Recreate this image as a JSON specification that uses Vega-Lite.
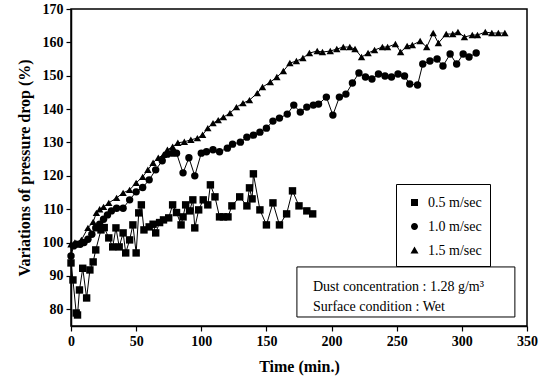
{
  "$schema": "https://vega.github.io/schema/vega-lite/v6.json",
  "width": 456,
  "height": 317,
  "autosize": {"type": "none"},
  "padding": {"left": 71, "top": 9, "right": 15, "bottom": 55},
  "background": "white",
  "config": {
    "view": {"stroke": "black", "strokeWidth": 1.5},
    "font": "Liberation Serif",
    "axis": {
      "grid": false,
      "domainColor": "black",
      "domainWidth": 1.5,
      "tickColor": "black",
      "tickWidth": 1.2,
      "labelColor": "black",
      "labelFont": "Liberation Serif",
      "labelFontSize": 14,
      "labelFontWeight": "bold",
      "titleColor": "black",
      "titleFont": "Liberation Serif",
      "titleFontSize": 16,
      "titleFontWeight": "bold"
    }
  },
  "datasets": {
    "pts": [
      {"t": 0, "v": 93.9, "s": "0.5 m/sec"},
      {"t": 1.5, "v": 88.8, "s": "0.5 m/sec"},
      {"t": 4, "v": 78.9, "s": "0.5 m/sec"},
      {"t": 5, "v": 78.3, "s": "0.5 m/sec"},
      {"t": 6.5, "v": 85.8, "s": "0.5 m/sec"},
      {"t": 9, "v": 92.3, "s": "0.5 m/sec"},
      {"t": 12, "v": 83.4, "s": "0.5 m/sec"},
      {"t": 14.5, "v": 91.8, "s": "0.5 m/sec"},
      {"t": 17, "v": 94.2, "s": "0.5 m/sec"},
      {"t": 19, "v": 97.8, "s": "0.5 m/sec"},
      {"t": 23, "v": 103.8, "s": "0.5 m/sec"},
      {"t": 25.5, "v": 104.5, "s": "0.5 m/sec"},
      {"t": 29, "v": 101.4, "s": "0.5 m/sec"},
      {"t": 32, "v": 98.7, "s": "0.5 m/sec"},
      {"t": 34.5, "v": 104.4, "s": "0.5 m/sec"},
      {"t": 37, "v": 98.7, "s": "0.5 m/sec"},
      {"t": 40, "v": 102.9, "s": "0.5 m/sec"},
      {"t": 42, "v": 96.9, "s": "0.5 m/sec"},
      {"t": 45, "v": 100.8, "s": "0.5 m/sec"},
      {"t": 47.5, "v": 105.3, "s": "0.5 m/sec"},
      {"t": 50, "v": 96.9, "s": "0.5 m/sec"},
      {"t": 52, "v": 108.9, "s": "0.5 m/sec"},
      {"t": 54, "v": 111.3, "s": "0.5 m/sec"},
      {"t": 56, "v": 103.8, "s": "0.5 m/sec"},
      {"t": 60, "v": 104.7, "s": "0.5 m/sec"},
      {"t": 63, "v": 105.5, "s": "0.5 m/sec"},
      {"t": 65, "v": 102.9, "s": "0.5 m/sec"},
      {"t": 68, "v": 106, "s": "0.5 m/sec"},
      {"t": 71, "v": 106.8, "s": "0.5 m/sec"},
      {"t": 75, "v": 107.4, "s": "0.5 m/sec"},
      {"t": 78, "v": 111.3, "s": "0.5 m/sec"},
      {"t": 81, "v": 109, "s": "0.5 m/sec"},
      {"t": 84.5, "v": 105.3, "s": "0.5 m/sec"},
      {"t": 86, "v": 107.7, "s": "0.5 m/sec"},
      {"t": 88, "v": 111.3, "s": "0.5 m/sec"},
      {"t": 91, "v": 109.5, "s": "0.5 m/sec"},
      {"t": 93.5, "v": 112.8, "s": "0.5 m/sec"},
      {"t": 95, "v": 104.4, "s": "0.5 m/sec"},
      {"t": 98, "v": 109.8, "s": "0.5 m/sec"},
      {"t": 101.5, "v": 112.8, "s": "0.5 m/sec"},
      {"t": 105, "v": 111.3, "s": "0.5 m/sec"},
      {"t": 107, "v": 117.3, "s": "0.5 m/sec"},
      {"t": 110.5, "v": 113.7, "s": "0.5 m/sec"},
      {"t": 114, "v": 107.7, "s": "0.5 m/sec"},
      {"t": 117, "v": 107.7, "s": "0.5 m/sec"},
      {"t": 120.5, "v": 107.7, "s": "0.5 m/sec"},
      {"t": 123.5, "v": 111, "s": "0.5 m/sec"},
      {"t": 129.5, "v": 113.7, "s": "0.5 m/sec"},
      {"t": 135, "v": 111, "s": "0.5 m/sec"},
      {"t": 137, "v": 116.4, "s": "0.5 m/sec"},
      {"t": 139, "v": 113.1, "s": "0.5 m/sec"},
      {"t": 140, "v": 120.6, "s": "0.5 m/sec"},
      {"t": 145, "v": 109.8, "s": "0.5 m/sec"},
      {"t": 150, "v": 105.3, "s": "0.5 m/sec"},
      {"t": 155, "v": 111.9, "s": "0.5 m/sec"},
      {"t": 160, "v": 105.3, "s": "0.5 m/sec"},
      {"t": 165.5, "v": 108.6, "s": "0.5 m/sec"},
      {"t": 170, "v": 115.5, "s": "0.5 m/sec"},
      {"t": 175, "v": 111, "s": "0.5 m/sec"},
      {"t": 181, "v": 109.5, "s": "0.5 m/sec"},
      {"t": 185.5, "v": 108.6, "s": "0.5 m/sec"},

      {"t": 0, "v": 96, "s": "1.0 m/sec"},
      {"t": 2, "v": 99, "s": "1.0 m/sec"},
      {"t": 4, "v": 99.5, "s": "1.0 m/sec"},
      {"t": 7, "v": 99.5, "s": "1.0 m/sec"},
      {"t": 10, "v": 100, "s": "1.0 m/sec"},
      {"t": 13, "v": 101, "s": "1.0 m/sec"},
      {"t": 16, "v": 102.5, "s": "1.0 m/sec"},
      {"t": 19, "v": 104.4, "s": "1.0 m/sec"},
      {"t": 22, "v": 105.5, "s": "1.0 m/sec"},
      {"t": 25, "v": 107, "s": "1.0 m/sec"},
      {"t": 28, "v": 108.3, "s": "1.0 m/sec"},
      {"t": 31, "v": 109.5, "s": "1.0 m/sec"},
      {"t": 35, "v": 110.3, "s": "1.0 m/sec"},
      {"t": 40, "v": 110.3, "s": "1.0 m/sec"},
      {"t": 45, "v": 112.8, "s": "1.0 m/sec"},
      {"t": 50, "v": 115.2, "s": "1.0 m/sec"},
      {"t": 55, "v": 116.5, "s": "1.0 m/sec"},
      {"t": 60, "v": 118.8, "s": "1.0 m/sec"},
      {"t": 65, "v": 121.8, "s": "1.0 m/sec"},
      {"t": 70, "v": 124.5, "s": "1.0 m/sec"},
      {"t": 74, "v": 126.5, "s": "1.0 m/sec"},
      {"t": 78, "v": 126.8, "s": "1.0 m/sec"},
      {"t": 81, "v": 126.8, "s": "1.0 m/sec"},
      {"t": 86, "v": 120.9, "s": "1.0 m/sec"},
      {"t": 90.5, "v": 125.4, "s": "1.0 m/sec"},
      {"t": 95, "v": 120, "s": "1.0 m/sec"},
      {"t": 100, "v": 126.8, "s": "1.0 m/sec"},
      {"t": 104, "v": 127.2, "s": "1.0 m/sec"},
      {"t": 109, "v": 127.8, "s": "1.0 m/sec"},
      {"t": 114, "v": 127.2, "s": "1.0 m/sec"},
      {"t": 120, "v": 128.3, "s": "1.0 m/sec"},
      {"t": 124, "v": 129.5, "s": "1.0 m/sec"},
      {"t": 130, "v": 130.1, "s": "1.0 m/sec"},
      {"t": 135, "v": 131.6, "s": "1.0 m/sec"},
      {"t": 140, "v": 132.2, "s": "1.0 m/sec"},
      {"t": 145, "v": 133.1, "s": "1.0 m/sec"},
      {"t": 150, "v": 134.3, "s": "1.0 m/sec"},
      {"t": 155, "v": 136.4, "s": "1.0 m/sec"},
      {"t": 160, "v": 137.3, "s": "1.0 m/sec"},
      {"t": 166, "v": 138.5, "s": "1.0 m/sec"},
      {"t": 171, "v": 141.2, "s": "1.0 m/sec"},
      {"t": 176, "v": 139.1, "s": "1.0 m/sec"},
      {"t": 181, "v": 140.6, "s": "1.0 m/sec"},
      {"t": 186, "v": 141.2, "s": "1.0 m/sec"},
      {"t": 190, "v": 141.5, "s": "1.0 m/sec"},
      {"t": 196, "v": 143.6, "s": "1.0 m/sec"},
      {"t": 201, "v": 138.2, "s": "1.0 m/sec"},
      {"t": 206, "v": 143.6, "s": "1.0 m/sec"},
      {"t": 211, "v": 144.5, "s": "1.0 m/sec"},
      {"t": 216, "v": 147.8, "s": "1.0 m/sec"},
      {"t": 221, "v": 150.8, "s": "1.0 m/sec"},
      {"t": 226, "v": 149.6, "s": "1.0 m/sec"},
      {"t": 231, "v": 149, "s": "1.0 m/sec"},
      {"t": 236, "v": 150.5, "s": "1.0 m/sec"},
      {"t": 241, "v": 149.9, "s": "1.0 m/sec"},
      {"t": 246, "v": 149.6, "s": "1.0 m/sec"},
      {"t": 251, "v": 150.5, "s": "1.0 m/sec"},
      {"t": 256, "v": 149.9, "s": "1.0 m/sec"},
      {"t": 260, "v": 147.5, "s": "1.0 m/sec"},
      {"t": 266, "v": 147.2, "s": "1.0 m/sec"},
      {"t": 270, "v": 153.5, "s": "1.0 m/sec"},
      {"t": 275.5, "v": 154.4, "s": "1.0 m/sec"},
      {"t": 281, "v": 155, "s": "1.0 m/sec"},
      {"t": 285.5, "v": 152.9, "s": "1.0 m/sec"},
      {"t": 291, "v": 156.5, "s": "1.0 m/sec"},
      {"t": 296, "v": 153.5, "s": "1.0 m/sec"},
      {"t": 301, "v": 156.5, "s": "1.0 m/sec"},
      {"t": 305.5, "v": 155.6, "s": "1.0 m/sec"},
      {"t": 311, "v": 156.8, "s": "1.0 m/sec"},

      {"t": 0, "v": 99.5, "s": "1.5 m/sec"},
      {"t": 3, "v": 100, "s": "1.5 m/sec"},
      {"t": 8, "v": 100.8, "s": "1.5 m/sec"},
      {"t": 13, "v": 104.4, "s": "1.5 m/sec"},
      {"t": 17, "v": 106.2, "s": "1.5 m/sec"},
      {"t": 19.5, "v": 108.9, "s": "1.5 m/sec"},
      {"t": 22, "v": 110, "s": "1.5 m/sec"},
      {"t": 25, "v": 110.7, "s": "1.5 m/sec"},
      {"t": 29, "v": 111.9, "s": "1.5 m/sec"},
      {"t": 35, "v": 113.4, "s": "1.5 m/sec"},
      {"t": 40, "v": 114.9, "s": "1.5 m/sec"},
      {"t": 45, "v": 115.8, "s": "1.5 m/sec"},
      {"t": 50, "v": 117.9, "s": "1.5 m/sec"},
      {"t": 55, "v": 119.7, "s": "1.5 m/sec"},
      {"t": 59, "v": 121.8, "s": "1.5 m/sec"},
      {"t": 63, "v": 123.9, "s": "1.5 m/sec"},
      {"t": 67, "v": 125.4, "s": "1.5 m/sec"},
      {"t": 71, "v": 126.3, "s": "1.5 m/sec"},
      {"t": 74, "v": 127.8, "s": "1.5 m/sec"},
      {"t": 78, "v": 128.7, "s": "1.5 m/sec"},
      {"t": 82, "v": 129.9, "s": "1.5 m/sec"},
      {"t": 87, "v": 130.2, "s": "1.5 m/sec"},
      {"t": 92, "v": 130.8, "s": "1.5 m/sec"},
      {"t": 97, "v": 131.3, "s": "1.5 m/sec"},
      {"t": 101, "v": 132.3, "s": "1.5 m/sec"},
      {"t": 105, "v": 134.3, "s": "1.5 m/sec"},
      {"t": 109, "v": 135.8, "s": "1.5 m/sec"},
      {"t": 113, "v": 136.7, "s": "1.5 m/sec"},
      {"t": 117, "v": 137.6, "s": "1.5 m/sec"},
      {"t": 122, "v": 138.8, "s": "1.5 m/sec"},
      {"t": 127, "v": 140.6, "s": "1.5 m/sec"},
      {"t": 132, "v": 141.8, "s": "1.5 m/sec"},
      {"t": 137, "v": 142.7, "s": "1.5 m/sec"},
      {"t": 143, "v": 144.8, "s": "1.5 m/sec"},
      {"t": 147, "v": 146.6, "s": "1.5 m/sec"},
      {"t": 153, "v": 148.1, "s": "1.5 m/sec"},
      {"t": 158, "v": 149.6, "s": "1.5 m/sec"},
      {"t": 163, "v": 151.4, "s": "1.5 m/sec"},
      {"t": 168, "v": 153.8, "s": "1.5 m/sec"},
      {"t": 173, "v": 154.4, "s": "1.5 m/sec"},
      {"t": 178, "v": 155.3, "s": "1.5 m/sec"},
      {"t": 183, "v": 156.8, "s": "1.5 m/sec"},
      {"t": 189, "v": 157.4, "s": "1.5 m/sec"},
      {"t": 193, "v": 157.1, "s": "1.5 m/sec"},
      {"t": 199, "v": 157.4, "s": "1.5 m/sec"},
      {"t": 204, "v": 158, "s": "1.5 m/sec"},
      {"t": 209, "v": 158.6, "s": "1.5 m/sec"},
      {"t": 214, "v": 158.6, "s": "1.5 m/sec"},
      {"t": 218, "v": 158, "s": "1.5 m/sec"},
      {"t": 223, "v": 155.6, "s": "1.5 m/sec"},
      {"t": 228, "v": 156.8, "s": "1.5 m/sec"},
      {"t": 233, "v": 157.7, "s": "1.5 m/sec"},
      {"t": 239, "v": 158.6, "s": "1.5 m/sec"},
      {"t": 243, "v": 158.6, "s": "1.5 m/sec"},
      {"t": 249, "v": 159.5, "s": "1.5 m/sec"},
      {"t": 253, "v": 157.1, "s": "1.5 m/sec"},
      {"t": 258, "v": 158.9, "s": "1.5 m/sec"},
      {"t": 262, "v": 159.2, "s": "1.5 m/sec"},
      {"t": 268, "v": 160.4, "s": "1.5 m/sec"},
      {"t": 273, "v": 158.6, "s": "1.5 m/sec"},
      {"t": 278, "v": 162.8, "s": "1.5 m/sec"},
      {"t": 282, "v": 159.8, "s": "1.5 m/sec"},
      {"t": 288, "v": 162.5, "s": "1.5 m/sec"},
      {"t": 293, "v": 162.5, "s": "1.5 m/sec"},
      {"t": 297, "v": 163.1, "s": "1.5 m/sec"},
      {"t": 302, "v": 161.6, "s": "1.5 m/sec"},
      {"t": 308, "v": 162.2, "s": "1.5 m/sec"},
      {"t": 312, "v": 162.2, "s": "1.5 m/sec"},
      {"t": 318, "v": 163.1, "s": "1.5 m/sec"},
      {"t": 323, "v": 162.8, "s": "1.5 m/sec"},
      {"t": 328, "v": 162.8, "s": "1.5 m/sec"},
      {"t": 333, "v": 162.8, "s": "1.5 m/sec"}
    ]
  },
  "data": {"name": "pts"},
  "layer": [
    {
      "mark": {"type": "line", "color": "black", "strokeWidth": 1},
      "encoding": {
        "x": {
          "field": "t", "type": "quantitative",
          "scale": {"domain": [0, 350], "nice": false, "zero": false},
          "axis": {
            "title": "Time (min.)",
            "values": [0, 25, 50, 75, 100, 125, 150, 175, 200, 225, 250, 275, 300, 325, 350],
            "labelExpr": "datum.value % 50 === 0 ? datum.label : ''",
            "labelOverlap": false,
            "tickSize": {"condition": {"test": "datum.value % 50 === 0", "value": 5}, "value": 3},
            "labelPadding": 3,
            "titlePadding": 10,
            "labelFlush": false
          }
        },
        "y": {
          "field": "v", "type": "quantitative",
          "scale": {"domain": [75, 170], "nice": false, "zero": false},
          "axis": {
            "title": "Variations of pressure drop (%)",
            "values": [80, 90, 100, 110, 120, 130, 140, 150, 160, 170],
            "tickCount": 10,
            "format": "d",
            "labelOverlap": false,
            "tickSize": 5,
            "labelPadding": 3,
            "titlePadding": 10,
            "labelFlush": false
          }
        },
        "detail": {"field": "s"},
        "order": {"field": "t"}
      }
    },
    {
      "mark": {"type": "point", "filled": true, "color": "black", "opacity": 1, "size": 55},
      "encoding": {
        "x": {"field": "t", "type": "quantitative"},
        "y": {"field": "v", "type": "quantitative"},
        "shape": {
          "field": "s", "type": "nominal",
          "scale": {"range": ["square", "circle", "triangle-up"]},
          "legend": null
        }
      }
    },
    {
      "mark": {"type": "point", "filled": true, "color": "black", "opacity": 0, "size": 400},
      "encoding": {
        "x": {"field": "t", "type": "quantitative"},
        "y": {"field": "v", "type": "quantitative"},
        "shape": {
          "field": "s", "type": "nominal",
          "scale": {"range": [
            "M-2,0H2M-0.35,-0.35H0.35V0.35H-0.35Z",
            "M-2,0H2M0.35,0A0.35,0.35,0,1,1,-0.35,0A0.35,0.35,0,1,1,0.35,0Z",
            "M-2,0H2M0,-0.4L0.4,0.3H-0.4Z"
          ]},
          "legend": {
            "title": null,
            "orient": "none",
            "legendX": 325,
            "legendY": 175,
            "strokeColor": "black",
            "padding": 8,
            "rowPadding": 6,
            "symbolSize": 400,
            "symbolFillColor": "black",
            "symbolStrokeColor": "black",
            "symbolStrokeWidth": 1,
            "symbolOpacity": 1,
            "labelFont": "Liberation Serif",
            "labelFontSize": 14,
            "labelColor": "black",
            "labelOffset": 3,
            "encode": {"symbols": {"update": {"opacity": {"value": 1}, "fill": {"value": "black"}, "fillOpacity": {"value": 1}, "stroke": {"value": "black"}, "strokeOpacity": {"value": 1}, "strokeWidth": {"value": 1}}}}
          }
        }
      }
    },
    {
      "data": {"values": [{}]},
      "mark": {"type": "rect", "fill": "white", "stroke": "black", "strokeWidth": 1},
      "encoding": {
        "x": {"datum": 173.4, "type": "quantitative"},
        "x2": {"datum": 340.7},
        "y": {"datum": 92.7, "type": "quantitative"},
        "y2": {"datum": 77.7}
      }
    },
    {
      "data": {"values": [{}]},
      "mark": {"type": "text", "align": "left", "baseline": "middle", "font": "Liberation Serif", "fontSize": 14, "color": "black", "text": "Dust concentration : 1.28 g/m³"},
      "encoding": {
        "x": {"datum": 185.7, "type": "quantitative"},
        "y": {"datum": 86.7, "type": "quantitative"}
      }
    },
    {
      "data": {"values": [{}]},
      "mark": {"type": "text", "align": "left", "baseline": "middle", "font": "Liberation Serif", "fontSize": 14, "color": "black", "text": "Surface condition : Wet"},
      "encoding": {
        "x": {"datum": 185.7, "type": "quantitative"},
        "y": {"datum": 80.7, "type": "quantitative"}
      }
    }
  ],
  "resolve": {"scale": {"shape": "independent"}}
}
